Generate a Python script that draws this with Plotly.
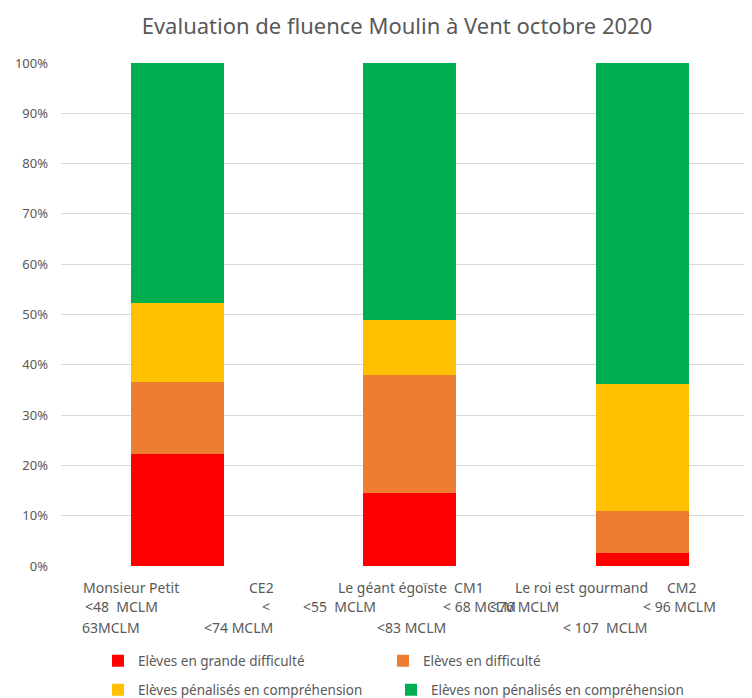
import plotly.graph_objects as go

title = "Evaluation de fluence Moulin à Vent octobre 2020"
categories = ["Monsieur Petit", "Le géant égoïste", "Le roi est gourmand"]
series_names = ["Elèves en grande difficulté", "Elèves en difficulté",
                "Elèves pénalisés en compréhension", "Elèves non pénalisés en compréhension"]
grande_difficulte = [22.2, 14.5, 2.6]
difficulte = [14.3, 23.5, 8.4]
penalises = [15.8, 10.9, 25.1]
non_penalises = [47.7, 51.1, 63.9]
series_values = [grande_difficulte, difficulte, penalises, non_penalises]
colors = ["#FF0000", "#ED7D31", "#FFC000", "#00B050"]
legend_ids = ["legend", "legend", "legend2", "legend2"]
y_ticks = list(range(0, 101, 10))
y_tick_labels = [f"{v}%" for v in y_ticks]

# x-axis label fragments as wrapped in the original (text, left px, row)
label_fragments = [
    ("Monsieur Petit", 83, 0), ("CE2", 249, 0), ("Le géant égoïste  CM1", 338, 0),
    ("Le roi est gourmand", 515, 0), ("CM2", 667, 0),
    ("<48  MCLM", 85, 1), ("<", 262, 1), ("<55  MCLM", 303, 1), ("< 68 MCLM", 443, 1),
    ("<76 MCLM", 490, 1), ("< 96 MCLM", 643, 1),
    ("63MCLM", 82, 2), ("<74 MCLM", 204, 2), ("<83 MCLM", 377, 2), ("< 107  MCLM", 563, 2),
]

# page body adds an 8px offset; layout is expressed in screen pixels minus that offset
OFF = 8
W, H = 752 - OFF, 698 - OFF
L, T, B = 61 - OFF, 63 - OFF, 566 - OFF
font_family = "Noto Sans"
gray = "#595959"


def px_x(px):
    return (px - OFF - L) / (W - L)


def px_y(py):
    return (B - (py - OFF)) / (B - T)


fig = go.Figure()
for name, vals, col, lg in zip(series_names, series_values, colors, legend_ids):
    fig.add_trace(go.Bar(x=categories, y=vals, name=name, marker_color=col,
                         marker_line_width=0, width=0.4, legend=lg))

row_y = [587, 606, 627]
annotations = []
for text, px, row in label_fragments:
    annotations.append(dict(text=text, xref="paper", yref="paper",
                            x=px_x(px - 2), y=px_y(row_y[row]),
                            xanchor="left", yanchor="middle", showarrow=False,
                            font=dict(family=font_family, size=14, color=gray)))

legend_common = dict(orientation="h", xanchor="left", yanchor="middle",
                     entrywidthmode="pixels", itemwidth=30, traceorder="normal",
                     bgcolor="rgba(0,0,0,0)",
                     font=dict(family=font_family, size=13.5, color=gray))

fig.update_layout(
    width=W, height=H,
    margin=dict(l=L, r=0, t=T, b=H - B, autoexpand=False),
    barmode="stack",
    plot_bgcolor="white", paper_bgcolor="white",
    title=dict(text=title, x=(397 - OFF) / W, xanchor="center", y=1 - 18 / H,
               yanchor="middle",
               font=dict(family=font_family, size=22, color=gray)),
    xaxis=dict(range=[-0.5, 2.472], showticklabels=False, showgrid=False,
               zeroline=False, showline=False),
    yaxis=dict(range=[0, 100], tickvals=y_ticks, ticktext=y_tick_labels,
               showgrid=True, gridcolor="#D9D9D9", gridwidth=1, zeroline=False,
               ticklabelstandoff=12,
               tickfont=dict(family=font_family, size=13, color=gray)),
    legend=dict(x=px_x(98), y=px_y(661), entrywidth=240, **legend_common),
    legend2=dict(x=px_x(98), y=px_y(690), entrywidth=248, **legend_common),
    annotations=annotations,
    showlegend=True,
)

fig.write_html("out.html")
